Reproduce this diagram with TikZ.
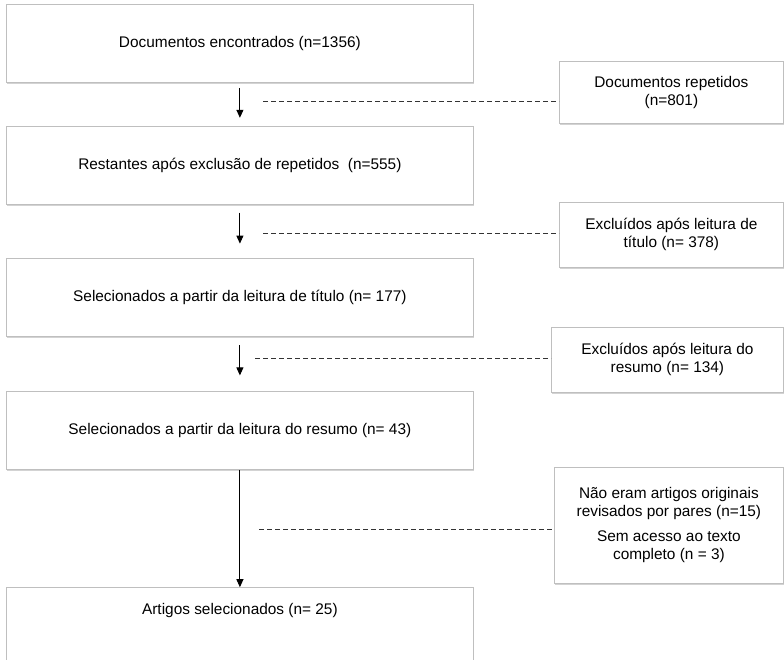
\documentclass[tikz,border=0pt]{standalone}
\usepackage{fontspec}
\setmainfont{Liberation Sans}
\usetikzlibrary{arrows.meta,positioning,shadows}

\begin{document}
\begin{tikzpicture}[
    x=1pt, y=-1pt,
    font=\fontsize{15.4}{18}\selectfont,
    node distance=43pt,
    % boxes of the main flow (left column)
    stagebox/.style={draw=gray!50, fill=white, line width=0.8pt,
      minimum width=467pt, minimum height=78pt, inner sep=0pt,
      drop shadow={shadow xshift=1pt, shadow yshift=-1.5pt, opacity=0.35}},
    % boxes with the excluded documents (right column)
    dropbox/.style={draw=gray!50, fill=white, line width=0.8pt,
      align=center, anchor=north west, inner sep=0pt,
      drop shadow={shadow xshift=1pt, shadow yshift=-1.5pt, opacity=0.35}},
    flow/.style={-{Triangle[width=7pt,length=8pt]}, line width=0.9pt},
    excl/.style={dash pattern=on 5pt off 3pt, draw=black!80, line width=0.9pt},
  ]
    \clip (0,0) rectangle (784,660);

    % main column
    \node[stagebox, anchor=north west] (b1) at (6,4)
      {Documentos encontrados (n=1356)};
    \node[stagebox, below=43pt of b1] (b2)
      {Restantes após exclusão de repetidos~ (n=555)};
    \node[stagebox, below=53pt of b2] (b3)
      {Selecionados a partir da leitura de título (n= 177)};
    \node[stagebox, below=55pt of b3] (b4)
      {Selecionados a partir da leitura do resumo (n= 43)};
    % last box runs off the bottom edge
    \node[stagebox, below=117pt of b4, minimum height=0pt,
      text height=27pt, text depth=100pt] (b5)
      {Artigos selecionados (n= 25)};

    % excluded documents
    \node[dropbox, minimum width=224pt, minimum height=62pt] (r1) at (559,61)
      {Documentos repetidos\\(n=801)};
    \node[dropbox, minimum width=224pt, minimum height=65pt] (r2) at (559,202)
      {Excluídos após leitura de\\título (n= 378)};
    \node[dropbox, minimum width=232pt, minimum height=65pt] (r3) at (551,327)
      {Excluídos após leitura do\\resumo (n= 134)};
    \node[dropbox, minimum width=229pt, minimum height=116pt] (r4) at (554,467)
      {Não eram artigos originais\\revisados por pares (n=15)\\[7pt]
       Sem acesso ao texto\\completo (n = 3)};

    % arrows between stages
    \draw[flow] ([yshift=-5pt]b1.south) -- ([yshift=8pt]b2.north);
    \draw[flow] ([yshift=-8pt]b2.south) -- ([yshift=14pt]b3.north);
    \draw[flow] ([yshift=-9pt]b3.south) -- ([yshift=16pt]b4.north);
    \draw[flow] (b4.south) -- (b5.north);

    % dashed links to the excluded boxes
    \coordinate (d1) at (263,101);
    \coordinate (d2) at (263,233);
    \coordinate (d3) at (255,358);
    \coordinate (d4) at (259,529);
    \draw[excl] (d1) -- (d1 -| r1.west);
    \draw[excl] (d2) -- (d2 -| r2.west);
    \draw[excl] (d3) -- (d3 -| r3.west);
    \draw[excl] (d4) -- (d4 -| r4.west);
\end{tikzpicture}
\end{document}
